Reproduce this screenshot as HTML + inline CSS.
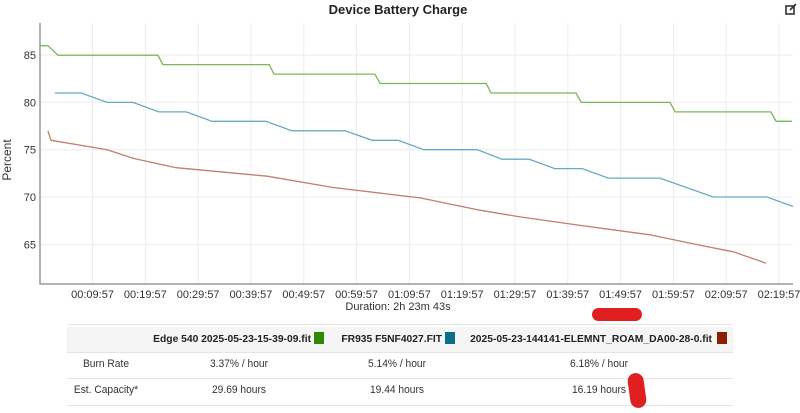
<!DOCTYPE html>
<html><head><meta charset="utf-8"><style>
body{margin:0;width:800px;height:413px;background:#fff;font-family:"Liberation Sans",sans-serif;overflow:hidden;position:relative}
svg text{font-family:"Liberation Sans",sans-serif}
.t{position:absolute;font-size:11px;color:#333;white-space:nowrap;width:200px;text-align:center;transform:scaleX(0.93)}
.h{position:absolute;font-size:10.5px;font-weight:bold;color:#222;white-space:nowrap;text-align:right;width:400px;transform:scaleX(0.98);transform-origin:right center}
.sq{position:absolute;width:10px;height:12px}
</style></head><body>
<svg id="chart" width="800" height="320" style="position:absolute;left:0;top:0">
<text x="398" y="14" text-anchor="middle" font-size="13" font-weight="bold" fill="#222">Device Battery Charge</text>
<g transform="translate(785,4)" stroke="#333" stroke-width="1.6" fill="none"><rect x="1" y="2" width="8" height="8"/><path d="M5 6 L11 0"/></g>
<g id="grid"></g><g id="axes"></g><g id="lines"></g>
<text transform="translate(11,160) rotate(-90)" text-anchor="middle" font-size="12" fill="#333">Percent</text>
<text x="398" y="310" text-anchor="middle" font-size="11" fill="#333">Duration: 2h 23m 43s</text>
</svg>
<div style="position:absolute;left:592px;top:308px;width:50px;height:13px;background:#e02020;border-radius:7px"></div>
<div style="position:absolute;left:67px;top:324px;width:666px;height:81px;border-top:1px solid #e4e4e4">
<div style="position:absolute;left:0;top:2px;width:666px;height:25px;background:#f5f5f5;border-bottom:1px solid #e4e4e4"></div>
<div style="position:absolute;left:0;top:53px;width:666px;border-top:1px solid #e4e4e4"></div>
<div style="position:absolute;left:0;top:80px;width:666px;border-top:1px solid #e4e4e4"></div>
</div>
<div class="h" style="left:-89px;top:333px">Edge 540 2025-05-23-15-39-09.fit</div>
<div class="sq" style="left:314px;top:332px;background:#2e8b00"></div>
<div class="h" style="left:42px;top:333px">FR935 F5NF4027.FIT</div>
<div class="sq" style="left:445px;top:332px;background:#0a6e8c"></div>
<div class="h" style="left:312px;top:333px">2025-05-23-144141-ELEMNT_ROAM_DA00-28-0.fit</div>
<div class="sq" style="left:717px;top:332px;background:#8b2000"></div>
<div class="t" style="left:6px;top:358px">Burn Rate</div>
<div class="t" style="left:139px;top:358px">3.37% / hour</div>
<div class="t" style="left:297px;top:358px">5.14% / hour</div>
<div class="t" style="left:499px;top:358px">6.18% / hour</div>
<div class="t" style="left:6px;top:384px">Est. Capacity*</div>
<div class="t" style="left:139px;top:384px">29.69 hours</div>
<div class="t" style="left:297px;top:384px">19.44 hours</div>
<div class="t" style="left:499px;top:384px">16.19 hours</div>
<div style="position:absolute;left:629px;top:373px;width:16px;height:35px;background:#e02020;border-radius:8px;transform:rotate(-8deg)"></div>
<script>
const yTicks=[65,70,75,80,85];
const xTickMinutes=[9.95,19.95,29.95,39.95,49.95,59.95,69.95,79.95,89.95,99.95,109.95,119.95,129.95,139.95];
const xTickLabels=["00:09:57","00:19:57","00:29:57","00:39:57","00:49:57","00:59:57","01:09:57","01:19:57","01:29:57","01:39:57","01:49:57","01:59:57","02:09:57","02:19:57"];
const edgeT=[0,1.5,3.4,22.3,23.3,43.4,44.3,63.4,64.4,84.5,85.4,101.5,102.5,119.3,120.3,138.4,139.4,142.4];
const edgeV=[86,86,85,85,84,84,83,83,82,82,81,81,80,80,79,79,78,78];
const frT=[2.8,7.8,12.7,17.6,22.5,27.7,32.6,42.8,47.7,57.8,62.9,67.8,72.7,82.8,87.5,92.6,97.5,102.7,107.6,117.4,127.5,137.7,142.6];
const frV=[81,81,80,80,79,79,78,78,77,77,76,76,75,75,74,74,73,73,72,72,70,70,69];
const elT=[1.5,2.1,12.7,17.6,25.8,43.0,55.5,72.0,83.3,90.9,102.3,115.5,125.0,131.3,137.5];
const elV=[77,76,75,74.1,73.1,72.2,71,69.9,68.6,67.9,67,66,64.9,64.2,63];
const L=40,R=793,T=23,B=284,yMin=60.8,yMax=88.4,xMax=142.6;
const xs=t=>L+t/xMax*(R-L), ys=v=>B-(v-yMin)/(yMax-yMin)*(B-T);
const NS="http://www.w3.org/2000/svg";
function mk(tag,parent,attrs){const e=document.createElementNS(NS,tag);for(const k in attrs)e.setAttribute(k,attrs[k]);parent.appendChild(e);return e;}
const grid=document.getElementById('grid'),axes=document.getElementById('axes'),lines=document.getElementById('lines');
yTicks.forEach(v=>{
 const g=mk('line',grid,{x1:L,x2:R,y1:ys(v),y2:ys(v),stroke:'#ececec'});
 
 
 const t=mk('text',axes,{x:L-4,y:ys(v)+4,'text-anchor':'end','font-size':'11',fill:'#333'});
 t.textContent=v;
 
 
});
xTickMinutes.forEach((m,i)=>{
 const g=mk('line',grid,{x1:xs(m),x2:xs(m),y1:T,y2:B,stroke:'#ececec'});
 
 
 const t=mk('text',axes,{x:xs(m),y:B+14,'text-anchor':'middle','font-size':'11',fill:'#333'});
 t.textContent=xTickLabels[i];
 
 
});
const ax=mk('path',axes,{d:`M${L} ${T} V${B} H${R}`,stroke:'#999',fill:'none','stroke-width':'1.5'});


function series(ts,vs,color,name){
 const d=ts.map((t,i)=>(i?'L':'M')+xs(t).toFixed(1)+' '+ys(vs[i]).toFixed(1)).join(' ');
 const p=mk('path',lines,{d:d,stroke:color,fill:'none','stroke-width':'1.3'});
 
 
}
series(edgeT,edgeV,'#78b85a','series-edge540');
series(frT,frV,'#6aa9c2','series-fr935');
series(elT,elV,'#c07f6a','series-elemnt');
</script>
</body></html>
